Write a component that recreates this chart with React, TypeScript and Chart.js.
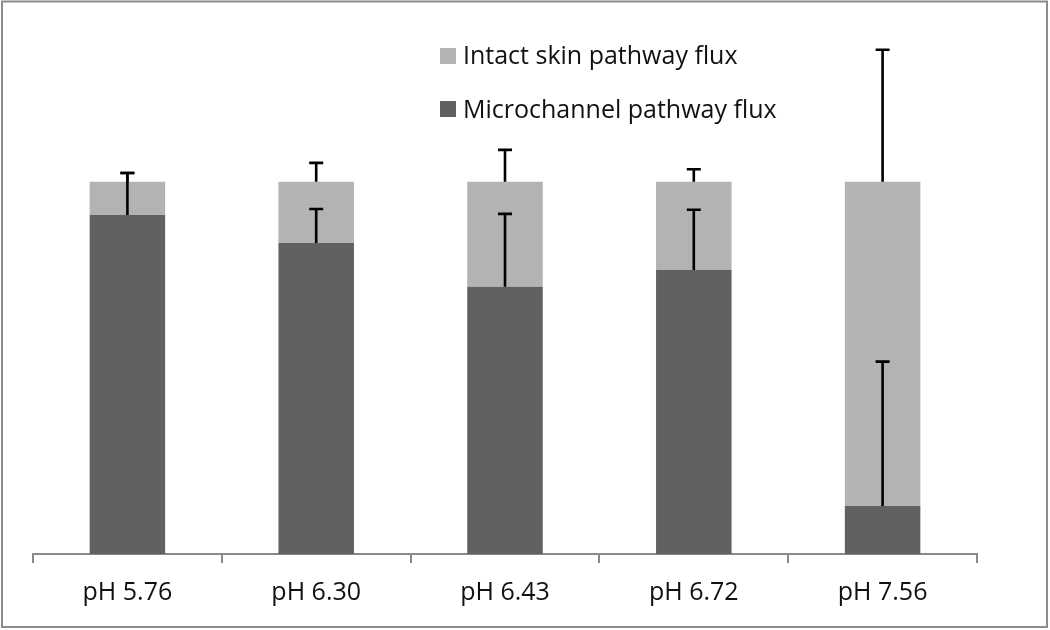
import React, { useEffect, useRef } from "react";
import { Chart, registerables } from "chart.js";

Chart.register(...registerables);

const categories = ["pH 5.76", "pH 6.30", "pH 6.43", "pH 6.72", "pH 7.56"];
const microchannelFlux = [91.1, 83.6, 71.8, 76.3, 12.9];
const intactSkinFlux = [8.9, 16.4, 28.2, 23.7, 87.1];
const microchannelError = [11.3, 9.1, 19.6, 16.2, 38.8];
const intactSkinError = [2.4, 5.1, 8.6, 3.4, 35.5];

const DARK = "#616161";
const LIGHT = "#b3b3b3";
const FONT = "'Open Sans', 'DejaVu Sans', sans-serif";

const errorBarPlugin = {
  id: "errorBars",
  afterDatasetsDraw(chart: any) {
    const ctx = chart.ctx;
    const y = chart.scales.y;
    const errs = [microchannelError, intactSkinError];
    ctx.save();
    ctx.strokeStyle = "#000000";
    ctx.lineWidth = 2.6;
    chart.data.datasets.forEach((ds: any, i: number) => {
      const meta = chart.getDatasetMeta(i);
      meta.data.forEach((el: any, j: number) => {
        let top = 0;
        for (let k = 0; k <= i; k++) top += chart.data.datasets[k].data[j];
        const yStart = y.getPixelForValue(top);
        const yEnd = y.getPixelForValue(top + errs[i][j]);
        ctx.beginPath();
        ctx.moveTo(el.x, yStart);
        ctx.lineTo(el.x, yEnd);
        ctx.moveTo(el.x - 7, yEnd);
        ctx.lineTo(el.x + 7, yEnd);
        ctx.stroke();
      });
    });
    ctx.restore();
  },
};

const legendAndFramePlugin = {
  id: "legendFrame",
  afterDraw(chart: any) {
    const ctx = chart.ctx;
    ctx.save();
    const items = [
      { label: chart.data.datasets[1].label, color: LIGHT, boxY: 48, baseY: 64 },
      { label: chart.data.datasets[0].label, color: DARK, boxY: 101, baseY: 118 },
    ];
    ctx.font = `25px ${FONT}`;
    ctx.textBaseline = "alphabetic";
    ctx.textAlign = "left";
    items.forEach((it) => {
      ctx.fillStyle = it.color;
      ctx.fillRect(440, it.boxY, 16, 16);
      ctx.fillStyle = "#111111";
      ctx.fillText(it.label, 463, it.baseY);
    });
    ctx.strokeStyle = "#8c8c8c";
    ctx.lineWidth = 2;
    ctx.strokeRect(2, 1.5, 1045, 625.5);
    ctx.restore();
  },
};

export default function App() {
  const ref = useRef<HTMLCanvasElement>(null);
  useEffect(() => {
    if (!ref.current) return;
    const chart = new Chart(ref.current, {
      type: "bar",
      data: {
        labels: categories,
        datasets: [
          {
            label: "Microchannel pathway flux",
            data: microchannelFlux,
            backgroundColor: DARK,
            categoryPercentage: 1,
            barPercentage: 0.4,
          },
          {
            label: "Intact skin pathway flux",
            data: intactSkinFlux,
            backgroundColor: LIGHT,
            categoryPercentage: 1,
            barPercentage: 0.4,
          },
        ],
      },
      options: {
        responsive: false,
        animation: false,
        layout: { padding: { left: 33, right: 73, top: 33, bottom: 0 } },
        plugins: { legend: { display: false }, tooltip: { enabled: false } },
        scales: {
          x: {
            stacked: true,
            afterFit: (scale: any) => {
              scale.height = 76;
            },
            grid: {
              drawOnChartArea: false,
              drawTicks: true,
              tickLength: 9,
              offset: true,
              color: "#898989",
              lineWidth: 2,
            },
            border: { display: true, color: "#898989", width: 2 },
            ticks: {
              padding: 15,
              color: "#111111",
              font: { family: FONT, size: 25 },
              maxRotation: 0,
            },
          },
          y: {
            stacked: true,
            display: false,
            min: 0,
            max: 140,
          },
        },
      },
      plugins: [errorBarPlugin, legendAndFramePlugin],
    });
    return () => chart.destroy();
  }, []);
  return (
    <div style={{ position: "fixed", left: 0, top: 0, width: 1050, height: 630, background: "#fff" }}>
      <canvas ref={ref} width={1050} height={630} />
    </div>
  );
}
